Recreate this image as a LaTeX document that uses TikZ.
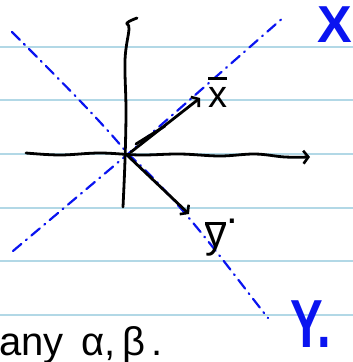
\documentclass[tikz,border=0pt]{standalone}
\usepackage{fontspec}
\setmainfont{Liberation Sans}
\usetikzlibrary{arrows.meta}
\definecolor{ruleblue}{RGB}{178,216,230}
\definecolor{penblue}{RGB}{10,20,240}
\begin{document}
\begin{tikzpicture}[x=1pt,y=-1pt,
  ink/.style={line width=2.8pt, line cap=round, line join=round},
  bluedash/.style={penblue, line width=2.2pt, line cap=round, dash pattern=on 11pt off 6pt on 1pt off 6pt},
  rulel/.style={ruleblue, line width=1.2pt},
  head/.style={-{Straight Barb[length=5pt,width=13pt,line width=2.6pt]}},
  hand/.style={inner sep=0pt, outer sep=0pt}]
\useasboundingbox (0,0) rectangle (353,362);
\clip (0,0) rectangle (353,362);
% ruled paper
\foreach \yy in {47,100,154,208,261,315} \draw[rulel] (0,\yy) -- (353,\yy);
% coordinates
\coordinate (O) at (128,154);
\coordinate (Xa) at (13,251);
\coordinate (Xb) at (284,17);
\coordinate (Ya) at (12,32);
\coordinate (Yb) at (268,318);
\coordinate (Hl) at (26,153);
\coordinate (Hr) at (310,157);
\coordinate (Vt) at (137,18);
\coordinate (Vb) at (123,207);
\coordinate (xv) at (200,98);
\coordinate (yv) at (189,214);
% blue dash-dot axes
\draw[bluedash] (Xa) -- (O) -- (Xb);
\draw[bluedash] (Ya) .. controls (60,80) and (100,120) .. (O) .. controls (180,200) and (230,270) .. (Yb);
% black axes
\draw[ink,head] plot[smooth,tension=0.6] coordinates {(Hl) (60,155) (100,153) (140,155) (180,154) (220,156) (255,154) (285,157) (Hr)};
\draw[ink] plot[smooth,tension=0.6] coordinates {(Vt) (127,23) (129,29) (125,60) (126,110) (125,160) (Vb)};
% vectors
\draw[ink,head] (131,152) -- (xv);
\draw[ink] (136,144) -- (165,126);
\draw[ink,head] (128,156) -- (yv);
% labels
\node[hand, penblue, font=\fontsize{52}{52}\bfseries\selectfont] (Xl) at (335,25) {X};
\node[hand, penblue, font=\fontsize{68}{68}\bfseries\selectfont, anchor=base west] (Yl) at (290,347) {\scalebox{0.72}[1]{Y.}};
\node[hand, font=\fontsize{38}{38}\selectfont, anchor=base west] (xl) at (208,107) {\vbox{\hrule height 2.8pt\kern 7pt\hbox{x}}};
\node[hand, font=\fontsize{42}{42}\selectfont, anchor=base west] (yl) at (205,247) {\vbox{\hrule height 2.8pt\kern 0pt\hbox{y}}\raisebox{0.55em}{.}};
\node[hand, font=\fontsize{40}{40}\selectfont, anchor=base west] (tx) at (-1,355) {any\ \,α,\,β\,.};
\end{tikzpicture}
\end{document}
